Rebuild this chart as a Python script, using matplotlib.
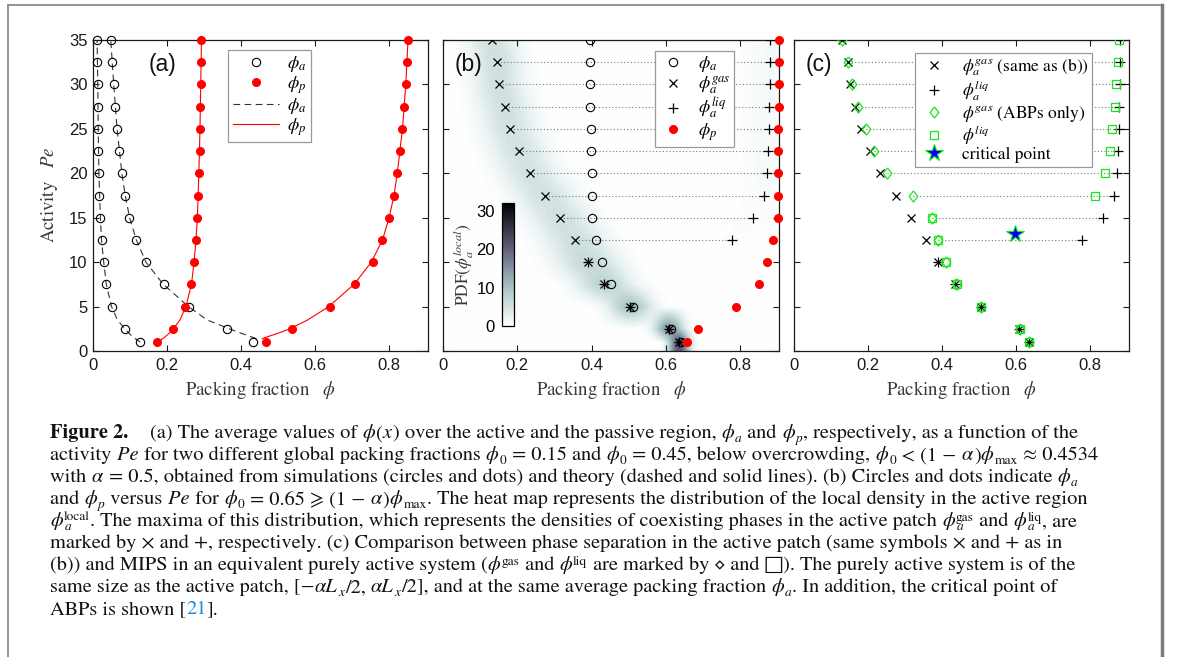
import re
import numpy as np
import matplotlib
matplotlib.use('Agg')
import matplotlib.pyplot as plt
from matplotlib.colors import LinearSegmentedColormap
from matplotlib.lines import Line2D
from matplotlib.font_manager import FontProperties

W, H = 1181, 657
plt.rcParams['mathtext.fontset'] = 'stix'
plt.rcParams['font.family'] = ['Liberation Sans', 'DejaVu Sans']

# ---------------- data ----------------
pe = [35, 32.5, 30, 27.5, 25, 22.5, 20, 17.5, 15, 12.5, 10, 7.5, 5, 2.5, 1]

# panel (a): simulations
a_phia_015 = [0.011, 0.012, 0.013, 0.013, 0.014, 0.014, 0.016, 0.017, 0.020, 0.023, 0.029, 0.036, 0.050, 0.086, 0.128]
a_phia_045 = [0.048, 0.050, 0.056, 0.059, 0.065, 0.070, 0.077, 0.087, 0.098, 0.117, 0.142, 0.191, 0.259, 0.363, 0.432]
a_phip_015 = [0.293, 0.292, 0.291, 0.290, 0.289, 0.288, 0.286, 0.285, 0.282, 0.278, 0.273, 0.266, 0.249, 0.217, 0.174]
a_phip_045 = [0.851, 0.849, 0.845, 0.841, 0.836, 0.829, 0.822, 0.814, 0.800, 0.782, 0.757, 0.709, 0.641, 0.537, 0.468]

# panel (a): theory
th_pe_015 = [1, 1.5, 2, 2.5, 3.5, 5, 7.5, 10, 12.5, 15, 20, 25, 30, 35]
th_phia_015 = [0.128, 0.110, 0.097, 0.086, 0.066, 0.050, 0.036, 0.029, 0.023, 0.020, 0.016, 0.014, 0.013, 0.011]
th_phip_015 = [0.174, 0.192, 0.206, 0.217, 0.235, 0.251, 0.266, 0.273, 0.278, 0.282, 0.286, 0.289, 0.291, 0.293]
th_pe_045 = [1.4, 2, 2.5, 3.5, 5, 7.5, 10, 12.5, 15, 17.5, 20, 25, 30, 35]
th_phia_045 = [0.441, 0.400, 0.368, 0.308, 0.258, 0.190, 0.143, 0.117, 0.099, 0.087, 0.078, 0.065, 0.056, 0.048]
th_phip_045 = [0.457, 0.500, 0.532, 0.580, 0.637, 0.705, 0.752, 0.782, 0.800, 0.813, 0.822, 0.836, 0.845, 0.851]

# panel (b): phi0 = 0.65
b_phia = [0.395, 0.395, 0.395, 0.395, 0.398, 0.398, 0.400, 0.401, 0.402, 0.413, 0.429, 0.452, 0.512, 0.614, 0.640]
b_gas = [0.131, 0.146, 0.150, 0.166, 0.180, 0.205, 0.233, 0.275, 0.316, 0.356, 0.390, 0.434, 0.505, 0.609, 0.636]
b_liq = [0.881, 0.881, 0.881, 0.879, 0.877, 0.876, 0.872, 0.864, 0.836, 0.779, 0.390, 0.434, 0.505, 0.609, 0.636]
b_phip = [0.905, 0.905, 0.905, 0.904, 0.903, 0.902, 0.901, 0.901, 0.901, 0.889, 0.874, 0.850, 0.788, 0.686, 0.656]

# panel (c): purely active system (ABPs only)
c_gas = [0.131, 0.147, 0.158, 0.172, 0.194, 0.215, 0.250, 0.321, 0.372, 0.390, 0.410, 0.440, 0.505, 0.611, 0.636]
c_liq = [0.877, 0.876, 0.871, 0.868, 0.860, 0.854, 0.839, 0.812, 0.372, 0.390, 0.410, 0.440, 0.505, 0.611, 0.636]
crit_phi, crit_pe = 0.598, 13.2

# heat-map peak widths (shape of the local-density distribution, per Pe row)
sig_gas = [0.046, 0.047, 0.048, 0.050, 0.052, 0.054, 0.056, 0.058, 0.060, 0.060, 0.060, 0.052, 0.040, 0.026, 0.019]
sig_liq = 0.05

xticks = [0, 0.2, 0.4, 0.6, 0.8]
yticks = [0, 5, 10, 15, 20, 25, 30, 35]

# caption (markup: {i:..} italic, {s:..}/{si:..} subscript, {S:..} superscript,
# {ss:sub|sup} stacked, {b:..} bold, {c:..} link colour)
caption_first = "{b:Figure 2.}"
caption_lines = [
    "(a) The average values of {i:ϕ}({i:x}) over the active and the passive region, {i:ϕ}{si:a} and {i:ϕ}{si:p}, respectively, as a function of the",
    "activity {i:Pe} for two different global packing fractions {i:ϕ}{s:0} = 0.15 and {i:ϕ}{s:0} = 0.45, below overcrowding, {i:ϕ}{s:0} < (1 − {i:α}){i:ϕ}{s:max} ≈ 0.4534",
    "with {i:α} = 0.5, obtained from simulations (circles and dots) and theory (dashed and solid lines). (b) Circles and dots indicate {i:ϕ}{si:a}",
    "and {i:ϕ}{si:p} versus {i:Pe} for {i:ϕ}{s:0} = 0.65 \u2A7E (1 − {i:α}){i:ϕ}{s:max}. The heat map represents the distribution of the local density in the active region",
    "{i:ϕ}{ss:a|local}. The maxima of this distribution, which represents the densities of coexisting phases in the active patch {i:ϕ}{ss:a|gas} and {i:ϕ}{ss:a|liq}, are",
    "marked by × and +, respectively. (c) Comparison between phase separation in the active patch (same symbols × and + as in",
    "(b)) and MIPS in an equivalent purely active system ({i:ϕ}{S:gas} and {i:ϕ}{S:liq} are marked by \u22C4 and \u25A1). The purely active system is of the",
    "same size as the active patch, [−{i:αL}{si:x}/2, {i:αL}{si:x}/2], and at the same average packing fraction {i:ϕ}{si:a}. In addition, the critical point of",
    "ABPs is shown [{c:21}].",
]

# ---------------- helpers ----------------
def fx(px):
    return px / W

def fy(py):
    return 1 - py / H

fig = plt.figure(figsize=(W / 100, H / 100), dpi=100)

SERIF = 'STIXGeneral'
LABCOL = '#3a3a3a'
TICKFS = 12

def setup(ax, leftlabels=True):
    ax.set_xlim(0, 0.905)
    ax.set_ylim(0, 35)
    ax.set_xticks(xticks)
    ax.set_xticklabels(['0', '0.2', '0.4', '0.6', '0.8'])
    ax.set_yticks(yticks)
    ax.tick_params(direction='in', top=True, right=True, length=4, width=0.8,
                   labelsize=TICKFS, pad=5, labelleft=leftlabels, colors='#1a1a1a')
    ax.tick_params(axis='y', pad=4)
    for s in ax.spines.values():
        s.set_linewidth(0.9)
        s.set_color('#1a1a1a')

ax_a = fig.add_axes([fx(93), fy(351), 335 / W, 311 / H])
ax_b = fig.add_axes([fx(443), fy(351), 336 / W, 311 / H])
ax_c = fig.add_axes([fx(794), fy(351), 335 / W, 311 / H])
for ax, ll in ((ax_a, True), (ax_b, False), (ax_c, False)):
    setup(ax, ll)

GREEN = '#19e619'
RED = '#ff0000'

# ---------------- panel (a) ----------------
ax_a.plot(th_phia_015, th_pe_015, ls=(0, (6, 4)), color='#333333', lw=0.8)
ax_a.plot(th_phia_045, th_pe_045, ls=(0, (6, 4)), color='#333333', lw=0.8)
ax_a.plot(th_phip_015, th_pe_015, '-', color=RED, lw=0.8)
ax_a.plot(th_phip_045, th_pe_045, '-', color=RED, lw=0.8)
for arr in (a_phia_015, a_phia_045):
    ax_a.plot(arr, pe, 'o', mfc='none', mec='k', ms=6, mew=0.8, ls='none', clip_on=False, zorder=3)
for arr in (a_phip_015, a_phip_045):
    ax_a.plot(arr, pe, 'o', color=RED, ms=5.5, ls='none', clip_on=False, zorder=3)

h_a = [Line2D([], [], marker='o', mfc='none', mec='k', ms=6, mew=0.8, ls='none'),
       Line2D([], [], marker='o', color=RED, ms=5.5, ls='none'),
       Line2D([], [], ls=(0, (6, 4)), color='#333333', lw=0.8),
       Line2D([], [], ls='-', color=RED, lw=0.8)]
l_a = [r'$\phi_a$', r'$\phi_p$', r'$\phi_a$', r'$\phi_p$']
leg = ax_a.legend(h_a, l_a, loc='upper left', bbox_to_anchor=(0.403, 0.968), borderaxespad=0,
                  fontsize=13, handlelength=2.6, handletextpad=0.4, labelspacing=0.0,
                  fancybox=False, framealpha=1, edgecolor='#9a9a9a', borderpad=0.25)
leg.get_frame().set_linewidth(0.9)

# ---------------- panel (b) heat map ----------------
pe_arr = np.array(pe, dtype=float)
order = np.argsort(pe_arr)
rows_pe = pe_arr[order]
phi_grid = np.linspace(0, 0.905, 500)
Z = []
for i in order:
    g, l, a = b_gas[i], b_liq[i], b_phia[i]
    if abs(l - g) < 1e-6:
        wg = 1.0
    else:
        wg = np.clip((l - a) / (l - g), 0, 1)
    sg = sig_gas[i]
    z = wg / (np.sqrt(2 * np.pi) * sg) * np.exp(-(phi_grid - g) ** 2 / (2 * sg ** 2))
    if abs(l - g) >= 1e-6:
        z = z + (1 - wg) / (np.sqrt(2 * np.pi) * sig_liq * 2.2) * np.exp(-(phi_grid - l) ** 2 / (2 * sig_liq ** 2))
    Z.append(z)
Z = np.array(Z)
# extend lowest row to the axis bottom
rows_pe = np.concatenate([[0.0], rows_pe])
Z = np.vstack([Z[0], Z])

cmap = LinearSegmentedColormap.from_list('pdf', [(0, '#ffffff'), (0.1, '#e4eeee'), (0.32, '#a4c3c1'),
                                                (0.62, '#65617f'), (1.0, '#000000')])
Zc = np.clip(Z, 0, 31.9)
cs = ax_b.contourf(phi_grid, rows_pe, Zc, levels=np.linspace(0, 32, 81), cmap=cmap, zorder=0)

for i in range(len(pe)):
    if abs(b_liq[i] - b_gas[i]) > 1e-6:
        ax_b.plot([b_gas[i], b_liq[i]], [pe[i], pe[i]], ls=(0, (1, 2)), color='#7a7a7a', lw=0.8, zorder=1)
ax_b.plot(b_phia, pe, 'o', mfc='none', mec='k', ms=6, mew=0.8, ls='none', zorder=3)
ax_b.plot(b_gas, pe, 'x', color='k', ms=6, mew=0.9, ls='none', zorder=3)
ax_b.plot(b_liq, pe, '+', color='k', ms=7, mew=0.9, ls='none', zorder=3)
ax_b.plot(b_phip, pe, 'o', color=RED, ms=5.5, ls='none', clip_on=False, zorder=4)

h_b = [Line2D([], [], marker='o', mfc='none', mec='k', ms=6, mew=0.8, ls='none'),
       Line2D([], [], marker='x', color='k', ms=6, mew=0.9, ls='none'),
       Line2D([], [], marker='+', color='k', ms=7, mew=0.9, ls='none'),
       Line2D([], [], marker='o', color=RED, ms=5.5, ls='none')]
l_b = [r'$\phi_a$', r'$\phi_a^{gas}$', r'$\phi_a^{liq}$', r'$\phi_p$']
leg = ax_b.legend(h_b, l_b, loc='upper left', bbox_to_anchor=(0.631, 0.965), borderaxespad=0,
                  fontsize=13, handlelength=1.6, handletextpad=0.6, labelspacing=0.0,
                  fancybox=False, framealpha=1, edgecolor='#9a9a9a', borderpad=0.2)
leg.get_frame().set_linewidth(0.9)

cax = fig.add_axes([fx(502), fy(326), 12 / W, 123 / H])
cb = fig.colorbar(cs, cax=cax, ticks=[0, 10, 20, 30])
cb.outline.set_linewidth(0.9)
cax.yaxis.set_ticks_position('left')
cax.yaxis.set_label_position('left')
cax.tick_params(length=0, labelsize=TICKFS, pad=5)
cax.set_ylim(0, 32)
cax.set_ylabel(r'$\mathrm{PDF}(\phi_a^{local})$', fontsize=12.5, color=LABCOL, labelpad=0)

# ---------------- panel (c) ----------------
for i in range(len(pe)):
    if abs(b_liq[i] - b_gas[i]) > 1e-6:
        ax_c.plot([c_gas[i], b_liq[i]], [pe[i], pe[i]], ls=(0, (1, 2)), color='#7a7a7a', lw=0.8, zorder=1)
dia = [(0, 1), (0.78, 0), (0, -1), (-0.78, 0), (0, 1)]
ax_c.plot(b_gas, pe, 'x', color='k', ms=6, mew=0.9, ls='none', zorder=3)
ax_c.plot(b_liq, pe, '+', color='k', ms=7, mew=0.9, ls='none', zorder=3)
ax_c.plot(c_gas, pe, marker=dia, mfc='none', mec=GREEN, ms=8, mew=0.9, ls='none', zorder=4)
ax_c.plot(c_liq, pe, 's', mfc='none', mec=GREEN, ms=5.5, mew=0.9, ls='none', zorder=4)
ax_c.plot([crit_phi], [crit_pe], '*', color='#0000ff', mec=GREEN, ms=13, mew=0.8, zorder=5)

h_c = [Line2D([], [], marker='x', color='k', ms=6, mew=0.9, ls='none'),
       Line2D([], [], marker='+', color='k', ms=7, mew=0.9, ls='none'),
       Line2D([], [], marker=dia, mfc='none', mec=GREEN, ms=8, mew=0.9, ls='none'),
       Line2D([], [], marker='s', mfc='none', mec=GREEN, ms=5.5, mew=0.9, ls='none'),
       Line2D([], [], marker='*', color='#0000ff', mec=GREEN, ms=13, mew=0.8, ls='none')]
l_c = [r'$\phi_a^{gas}$ (same as (b))', r'$\phi_a^{liq}$', r'$\phi^{gas}$ (ABPs only)',
       r'$\phi^{liq}$', 'critical point']
leg = ax_c.legend(h_c, l_c, loc='upper left', bbox_to_anchor=(0.361, 0.958), borderaxespad=0,
                  handlelength=1.8, handletextpad=0.7, labelspacing=0.0,
                  fancybox=False, framealpha=1, edgecolor='#9a9a9a', borderpad=0.2,
                  prop={'family': SERIF, 'size': 12.5})
leg.get_frame().set_linewidth(0.9)

# ---------------- labels ----------------
for lab, cx in (('(a)', 162), ('(b)', 469), ('(c)', 819)):
    fig.text(fx(cx), fy(64), lab, fontsize=16.5, ha='center', va='center', color='#111111')
for cx in (260, 611, 961):
    fig.text(fx(cx), fy(390), r'Packing fraction   $\phi$', fontsize=13.5, family=SERIF,
             ha='center', va='center', color=LABCOL)
fig.text(fx(50), fy(195), r'Activity   $Pe$', fontsize=13.5, family=SERIF, rotation=90,
         ha='center', va='center', color=LABCOL)

# ---------------- frame ----------------
fig.add_artist(Line2D([fx(8), fx(1162)], [fy(5), fy(5)], color='#8a8a8a', lw=1.3))
fig.add_artist(Line2D([fx(8), fx(8)], [fy(5), 0], color='#8a8a8a', lw=1.3))
fig.add_artist(Line2D([fx(1162), fx(1162)], [fy(5), 0], color='#7a7a7a', lw=2.5))

# ---------------- caption (piecewise typesetting) ----------------
CAP = 14.7
SUBFS = 9.6
SUP_UP = 6.0
SUB_DN = 3.6
CAPCOL = '#111111'
FAM = ['STIXGeneral', 'DejaVu Serif']
rend = fig.canvas.get_renderer()

def fprop(size, style='normal', weight='normal'):
    return FontProperties(family=FAM, size=size, style=style, weight=weight)

def adv(s, prop):
    w1, _, _ = rend.get_text_width_height_descent('|' + s + '|', prop, ismath=False)
    w0, _, _ = rend.get_text_width_height_descent('||', prop, ismath=False)
    return w1 - w0

def draw(x, y, s, prop, color=CAPCOL):
    fig.text(fx(x), fy(y), s, fontproperties=prop, color=color, ha='left', va='baseline')

def piece(x, y, s, kind):
    if kind == 'n':
        p = fprop(CAP); draw(x, y, s, p); return x + adv(s, p)
    if kind == 'b':
        p = fprop(CAP, weight='bold'); draw(x, y, s, p); return x + adv(s, p)
    if kind == 'c':
        p = fprop(CAP); draw(x, y, s, p, '#1a8cd8'); return x + adv(s, p)
    if kind == 'i':
        p = fprop(CAP, style='italic'); draw(x, y, s, p); return x + adv(s, p) + 1.0
    if kind in ('s', 'si'):
        p = fprop(SUBFS, style='italic' if kind == 'si' else 'normal')
        draw(x, y + SUB_DN, s, p); return x + adv(s, p) + 0.5
    if kind == 'S':
        p = fprop(SUBFS); draw(x, y - SUP_UP, s, p); return x + adv(s, p) + 0.5
    if kind == 'ss':
        # stacked sub/superscript drawn as one two-line text
        sub, sup = s.split('|')
        p = fprop(SUBFS)
        pi = fprop(SUBFS, style='italic')
        _, lh, ld = rend.get_text_width_height_descent('lp', p, ismath=False)
        asc = lh - ld
        ls = (SUP_UP + SUB_DN - ld) / asc
        fig.text(fx(x), fy(y - SUP_UP - asc), sup + '\n$' + sub + '$', fontproperties=p,
                 color=CAPCOL, ha='left', va='top', linespacing=ls)
        return x + max(adv(sub, pi), adv(sup, p)) + 0.5
    raise ValueError(kind)

TOK = re.compile(r'\{(\w+):([^}]*)\}')

def render_line(x, y, spec):
    pos = 0
    for m in TOK.finditer(spec):
        if m.start() > pos:
            x = piece(x, y, spec[pos:m.start()], 'n')
        x = piece(x, y, m.group(2), m.group(1))
        pos = m.end()
    if pos < len(spec):
        x = piece(x, y, spec[pos:], 'n')

base0 = 438.5
render_line(50, base0, caption_first)
for k, ln in enumerate(caption_lines):
    render_line(150 if k == 0 else 50, base0 + 22 * k, ln)

fig.savefig('out.png', dpi=100)
